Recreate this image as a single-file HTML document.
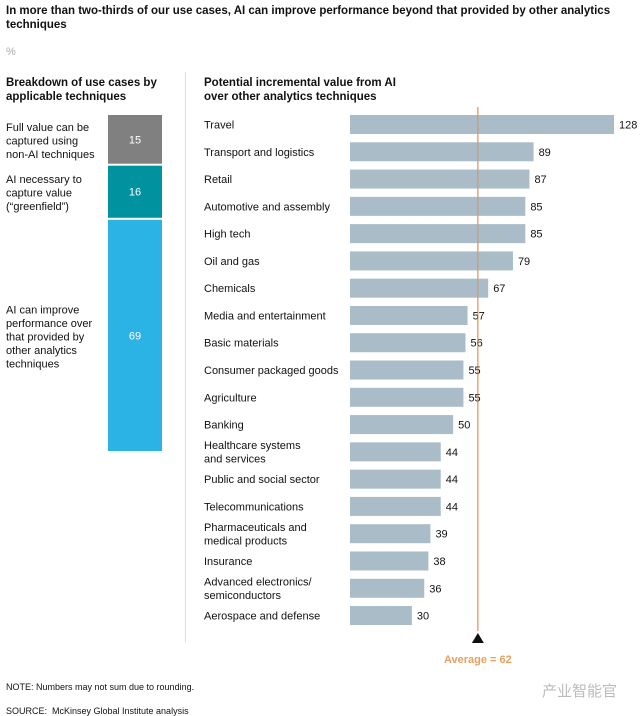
<!DOCTYPE html>
<html><head><meta charset="utf-8"><style>
body{margin:0;background:#fff;font-family:"Liberation Sans",Arial,sans-serif;color:#111}
#c{position:relative;width:640px;height:716px;overflow:hidden}
.t{position:absolute;white-space:nowrap}
</style></head><body>
<div id="c">
<div class="t" style="left:6px;top:4px;font-size:11.5px;font-weight:bold;line-height:14px">In more than two-thirds of our use cases, AI can improve performance beyond that provided by other analytics<br>techniques</div>
<div class="t" style="left:6px;top:46px;font-size:11px;color:#aaa">%</div>
<div class="t" style="left:6px;top:76px;font-size:11.5px;font-weight:bold;line-height:14px">Breakdown of use cases by<br>applicable techniques</div>
<div class="t" style="left:204px;top:76px;font-size:11.5px;font-weight:bold;line-height:14px">Potential incremental value from AI<br>over other analytics techniques</div>
<div style="position:absolute;left:185px;top:72px;width:1px;height:570px;background:#ddd"></div>
<svg id="s" width="640" height="716" style="position:absolute;left:0;top:0"></svg>
<div class="t" style="left:6px;top:682px;font-size:9px">NOTE: Numbers may not sum due to rounding.</div>
<div class="t" style="left:6px;top:706px;font-size:9px">SOURCE:&nbsp; McKinsey Global Institute analysis</div>
<div class="t" style="left:542px;top:680px;font-size:15px;color:#bbb;font-family:'Liberation Sans','Noto Sans CJK SC',sans-serif">产业智能官</div>
</div>
<script>
const industries=["Travel","Transport and logistics","Retail","Automotive and assembly","High tech","Oil and gas","Chemicals","Media and entertainment","Basic materials","Consumer packaged goods","Agriculture","Banking","Healthcare systems|and services","Public and social sector","Telecommunications","Pharmaceuticals and|medical products","Insurance","Advanced electronics/|semiconductors","Aerospace and defense"];
const values=[128,89,87,85,85,79,67,57,56,55,55,50,44,44,44,39,38,36,30];
const averageValue=62;
const breakdownLabels=["Full value can be|captured using|non-AI techniques","AI necessary to|capture value|(“greenfield”)","AI can improve|performance over|that provided by|other analytics|techniques"];
const breakdownValues=[15,16,69];
const breakdownColors=["#808080","#00929f","#2bb3e6"];
const NS="http://www.w3.org/2000/svg",svg=document.getElementById('s');
function mk(t,a){const e=document.createElementNS(NS,t);for(const k in a)e.setAttribute(k,a[k]);svg.appendChild(e);return e;}
const x0=350,kx=264/128;const xs=v=>x0+v*kx;
const y0=115,step=27.28,bh=19;const ys=i=>y0+i*step;
function txt(s,x,y,a,lh){const e=mk('text',Object.assign({x:x,y:y,'font-size':11,fill:'#111'},a||{}));
 const parts=s.split('|');parts.forEach((p,j)=>{const t=document.createElementNS(NS,'tspan');t.setAttribute('x',x);t.setAttribute('dy',j?lh||13.5:0);t.textContent=p;e.appendChild(t);});return e;}
const ax=xs(averageValue);
const al=mk('line',{x1:ax,y1:107,x2:ax,y2:631,stroke:'#e08a50','stroke-width':1});


values.forEach((v,i)=>{
 const r=mk('rect',{x:x0,y:ys(i),width:xs(v)-x0,height:bh,fill:'#a9bcc8'});
 
 
 const lines=industries[i].split('|').length;
 const l=txt(industries[i],204,ys(i)+bh/2+4-(lines-1)*6.75,{});
 
 
 const vl=mk('text',{x:xs(v)+5,y:ys(i)+bh/2+4,'font-size':11,fill:'#111'});vl.textContent=v;
 
 
});
const al2=mk('line',{x1:ax,y1:107,x2:ax,y2:631,stroke:'#e08a50','stroke-width':1,'stroke-opacity':0.8});


const tri=mk('polygon',{points:`${ax-6},643 ${ax+6},643 ${ax},633`,fill:'#111'});


const at=mk('text',{x:ax,y:663,'font-size':11,'font-weight':'bold',fill:'#e8a060','text-anchor':'middle'});at.textContent='Average = '+averageValue;


const sy0=115,sy1=453,tot=breakdownValues.reduce((a,b)=>a+b,0);let cy=sy0;
breakdownValues.forEach((v,i)=>{
 const h=(sy1-sy0)*v/tot;
 const r=mk('rect',{x:108,y:cy,width:54,height:h-2,fill:breakdownColors[i]});
 
 
 const t=mk('text',{x:135,y:cy+h/2+3,'font-size':11,fill:'#fff','text-anchor':'middle'});t.textContent=v;
 
 
 const n=breakdownLabels[i].split('|').length;
 const l=txt(breakdownLabels[i],6,cy+h/2+4-(n-1)*6.75,{});
 
 
 cy+=h;
});
</script>
</body></html>
